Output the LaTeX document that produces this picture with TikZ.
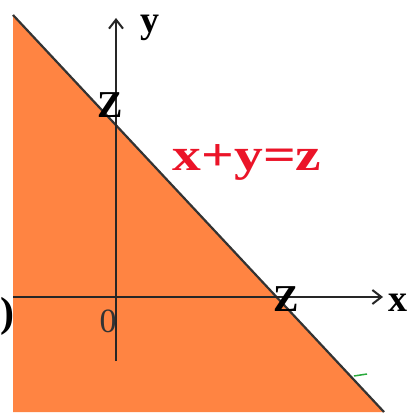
\documentclass[tikz,border=0pt]{standalone}
\usepackage{fontspec}
\setmainfont{Liberation Serif}
\usetikzlibrary{arrows.meta}
\definecolor{regionorange}{RGB}{255,132,66}
\definecolor{eqred}{RGB}{235,20,40}
\definecolor{markgreen}{RGB}{40,170,60}
\begin{document}
\begin{tikzpicture}[x=1pt,y=-1pt,
  axis/.style={line width=2.6pt,draw=black!85,-{Straight Barb[length=9pt,width=14pt,line width=2pt]}},
  boundary/.style={line width=2.2pt,draw=black!80},
  lbl/.style={inner sep=0pt,font=\bfseries\fontsize{38}{38}\selectfont},
  eqlbl/.style={inner sep=0pt,text=eqred,font=\bfseries\fontsize{46}{46}\selectfont,xscale=1.25}]
\useasboundingbox (0,0) rectangle (414,412);
\fill[white] (0,0) rectangle (414,412);
% named points
\coordinate (TL) at (13,15);
\coordinate (BR) at (384,412);
\coordinate (BL) at (13,412);
\coordinate (O) at (116,297);
\coordinate (Ybot) at (116,361);
\coordinate (Ytop) at (116,18);
\coordinate (Xleft) at (13,297);
\coordinate (Xright) at (383,297);
\coordinate (G1) at (354,376);
\coordinate (G2) at (367,374);
% half-plane x+y<=z
\fill[regionorange] (TL) -- (BR) -- (BL) -- cycle;
\draw[boundary] (TL) -- (BR);
% axes
\draw[axis] (Ybot) -- (Ytop);
\draw[axis] (Xleft) -- (Xright);
% labels
\node[lbl] (ylbl) at (150,28) {y};
\node[lbl] (xlbl) at (398,303) {x};
\node[lbl] (ztop) at (110,105) {Z};
\node[lbl] (zx) at (286,299) {Z};
\node[inner sep=0pt,font=\fontsize{34}{34}\selectfont,text=black!80] (zero) at (108,321) {0};
\node[eqlbl] (eq) at (247,162) {x+y=z};
\node[inner sep=0pt,anchor=west,font=\bfseries\fontsize{42}{42}\selectfont] (paren) at (0,316) {)};
\draw[markgreen,line width=1.5pt] (G1) -- (G2);
\end{tikzpicture}
\end{document}
